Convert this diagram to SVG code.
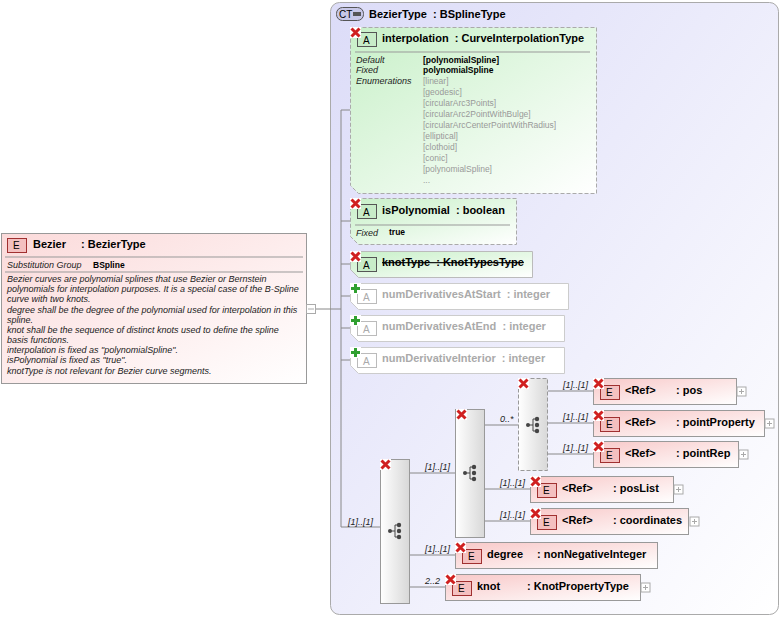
<svg xmlns="http://www.w3.org/2000/svg" width="782" height="618" viewBox="0 0 782 618">
<defs>
<linearGradient id="gCT" x1="0" y1="0" x2="1" y2="1"><stop offset="0" stop-color="#dcdcf8"/><stop offset="1" stop-color="#ffffff"/></linearGradient>
<linearGradient id="gA" x1="0" y1="0" x2="1" y2="1"><stop offset="0" stop-color="#c8f0c8"/><stop offset="1" stop-color="#ffffff"/></linearGradient>
<linearGradient id="gE" x1="0" y1="0" x2="1" y2="1"><stop offset="0" stop-color="#f8c8c8"/><stop offset="1" stop-color="#ffffff"/></linearGradient>
<linearGradient id="gE2" x1="0" y1="0" x2="1" y2="1"><stop offset="0" stop-color="#fbdada"/><stop offset="1" stop-color="#ffffff"/></linearGradient>
<linearGradient id="gS" x1="0" y1="0" x2="1" y2="0"><stop offset="0" stop-color="#ffffff"/><stop offset="1" stop-color="#d8d8d8"/></linearGradient>
<g id="xic"><rect x="0" y="0" width="11" height="11" fill="#fff"/><path d="M1.5 1.5L9.5 9.5M9.5 1.5L1.5 9.5" stroke="#d02020" stroke-width="3"/></g>
<g id="pic"><rect x="0" y="0" width="11" height="11" fill="#fff"/><path d="M5.5 1V10M1 5.5H10" stroke="#30a030" stroke-width="3"/></g>
<g id="seqi"><circle cx="0" cy="0" r="2" fill="#444"/><path d="M0 0H5M5 -6V6" stroke="#444"/><circle cx="9" cy="-6" r="2.2" fill="#444"/><circle cx="9" cy="0" r="2.2" fill="#444"/><circle cx="9" cy="6" r="2.2" fill="#444"/><path d="M5 -6H9M5 6H9" stroke="#444"/></g>
<g id="plus"><rect x="0" y="0" width="9" height="9" fill="#fff" stroke="#aaa"/><path d="M2 4.5H7M4.5 2V7" stroke="#aaa"/></g>
</defs>
<style>
text{font-family:"Liberation Sans",Arial,sans-serif;font-size:11px;fill:#000;white-space:pre}
.b{font-weight:bold}
.i{font-style:italic;font-size:9px;fill:#222}
.s{font-size:8.5px;font-weight:bold}
.en{font-size:8.5px;fill:#999}
.g{fill:#aaa;font-weight:bold}
.ln{stroke:#888;fill:none}
.eb{fill:url(#gE);stroke:#999}
.badge{fill:#f4c0c0;stroke:#a03030}
.badgeT{font-size:10px;fill:#000}
</style>
<g id="BezierType">
<rect x="330.5" y="2.5" width="448" height="612" rx="9" fill="url(#gCT)" stroke="#aaa"/>
<rect x="336.5" y="7.5" width="27" height="13" rx="6" fill="#c8c8e8" stroke="#555"/>
<text x="339" y="18" style="font-size:10px">CT</text><rect x="353" y="12" width="8" height="4" fill="#555"/>
<text x="369" y="18" class="b">BezierType  : BSplineType</text>
</g>
<g id="connectors">
<path class="ln" d="M316 309H341M341 110V527M341 110H350M341 221H350M341 264H350M341 296H350M341 328H350M341 360H350M341 527H380M410 473H455M485 425H518M548 391H593M548 423H593M548 454H593M485 489H530M485 521H530M410 555H455M410 587H445"/>
<text x="348" y="525" class="i">[1]..[1]</text>
<text x="425" y="470" class="i">[1]..[1]</text>
<text x="500" y="422" class="i">0..*</text>
<text x="563" y="388" class="i">[1]..[1]</text>
<text x="563" y="420" class="i">[1]..[1]</text>
<text x="563" y="451" class="i">[1]..[1]</text>
<text x="500" y="486" class="i">[1]..[1]</text>
<text x="500" y="518" class="i">[1]..[1]</text>
<text x="425" y="552" class="i">[1]..[1]</text>
<text x="425" y="584" class="i">2..2</text>
</g>
<g id="Bezier">
<rect x="1.5" y="233.5" width="305" height="150" fill="url(#gE2)" stroke="#999"/>
<rect x="7.5" y="238.5" width="19" height="14" class="badge"/><text x="13" y="249" class="badgeT">E</text>
<text x="33" y="248" class="b">Bezier</text><text x="81" y="248" class="b">: BezierType</text>
<path d="M5 257H303M5 272H303" stroke="#999"/>
<text x="7" y="268" class="i">Substitution Group</text><text x="93" y="268" class="s">BSpline</text>
<text class="i"><tspan x="7" y="282">Bezier curves are polynomial splines that use Bezier or Bernstein</tspan><tspan x="7" y="292">polynomials for interpolation purposes. It is a special case of the B-Spline</tspan><tspan x="7" y="302">curve with two knots.</tspan><tspan x="7" y="313">degree shall be the degree of the polynomial used for interpolation in this</tspan><tspan x="7" y="323">spline.</tspan><tspan x="7" y="333">knot shall be the sequence of distinct knots used to define the spline</tspan><tspan x="7" y="343">basis functions.</tspan><tspan x="7" y="353">interpolation is fixed as "polynomialSpline".</tspan><tspan x="7" y="363">isPolynomial is fixed as "true".</tspan><tspan x="7" y="374">knotType is not relevant for Bezier curve segments.</tspan></text>
<rect x="306.5" y="304.5" width="9" height="9" fill="#fff" stroke="#aaa"/><path d="M308 309H314" stroke="#aaa"/>
</g>
<g id="interpolation">
<path d="M350.5 27.5H596.5V193.5H358.5L350.5 185.5Z" fill="url(#gA)" stroke="#aaa" stroke-dasharray="4,2"/>
<rect x="357.5" y="32.5" width="19" height="14" fill="#c8ecc8" stroke="#555"/><text x="363" y="44" class="badgeT">A</text>
<use href="#xic" x="350" y="27"/>
<text x="382" y="42" class="b">interpolation  : CurveInterpolationType</text>
<path d="M355 52H590" stroke="#999"/>
<text class="i"><tspan x="356" y="63">Default</tspan><tspan x="356" y="73">Fixed</tspan><tspan x="356" y="84">Enumerations</tspan></text>
<text x="423" y="63" class="s">[polynomialSpline]</text><text x="423" y="73" class="s">polynomialSpline</text>
<text class="en"><tspan x="423" y="84">[linear]</tspan><tspan x="423" y="95">[geodesic]</tspan><tspan x="423" y="106">[circularArc3Points]</tspan><tspan x="423" y="117">[circularArc2PointWithBulge]</tspan><tspan x="423" y="128">[circularArcCenterPointWithRadius]</tspan><tspan x="423" y="139">[elliptical]</tspan><tspan x="423" y="150">[clothoid]</tspan><tspan x="423" y="161">[conic]</tspan><tspan x="423" y="172">[polynomialSpline]</tspan><tspan x="423" y="183">...</tspan></text>
</g>
<g id="isPolynomial">
<path d="M350.5 198.5H516.5V244.5H358.5L350.5 236.5Z" fill="url(#gA)" stroke="#aaa" stroke-dasharray="4,2"/>
<rect x="357.5" y="204.5" width="19" height="14" fill="#c8ecc8" stroke="#555"/><text x="363" y="216" class="badgeT">A</text>
<use href="#xic" x="350" y="198"/>
<text x="382" y="214" class="b">isPolynomial  : boolean</text>
<path d="M355 225H510" stroke="#999"/>
<text x="356" y="236" class="i">Fixed</text><text x="389" y="235" class="s">true</text>
</g>
<g id="knotType">
<path d="M350.5 251.5H532.5V277.5H358.5L350.5 269.5Z" fill="url(#gA)" stroke="#bbb"/>
<rect x="357.5" y="257.5" width="19" height="14" fill="#c8ecc8" stroke="#555"/><text x="363" y="269" class="badgeT">A</text>
<use href="#xic" x="350" y="251"/>
<text x="382" y="266" class="b" text-decoration="line-through">knotType  : KnotTypesType</text>
</g>
<g id="numDerivativesAtStart">
<path d="M350.5 283.5H568.5V309.5H358.5L350.5 301.5Z" fill="#fff" stroke="#ccc"/>
<rect x="357.5" y="289.5" width="19" height="14" fill="#fff" stroke="#bbb"/><text x="363" y="301" class="badgeT" style="fill:#aaa">A</text>
<use href="#pic" x="350" y="283"/>
<text x="382" y="298" class="g">numDerivativesAtStart  : integer</text>
</g>
<g id="numDerivativesAtEnd">
<path d="M350.5 315.5H564.5V341.5H358.5L350.5 333.5Z" fill="#fff" stroke="#ccc"/>
<rect x="357.5" y="321.5" width="19" height="14" fill="#fff" stroke="#bbb"/><text x="363" y="333" class="badgeT" style="fill:#aaa">A</text>
<use href="#pic" x="350" y="315"/>
<text x="382" y="330" class="g">numDerivativesAtEnd  : integer</text>
</g>
<g id="numDerivativeInterior">
<path d="M350.5 347.5H564.5V373.5H358.5L350.5 365.5Z" fill="#fff" stroke="#ccc"/>
<rect x="357.5" y="353.5" width="19" height="14" fill="#fff" stroke="#bbb"/><text x="363" y="365" class="badgeT" style="fill:#aaa">A</text>
<use href="#pic" x="350" y="347"/>
<text x="382" y="362" class="g">numDerivativeInterior  : integer</text>
</g>
<g id="seq1"><rect x="380.5" y="459.5" width="29" height="144" fill="url(#gS)" stroke="#999"/><use href="#xic" x="380" y="459"/><use href="#seqi" x="390" y="531"/></g>
<g id="seq2"><rect x="455.5" y="409.5" width="29" height="128" fill="url(#gS)" stroke="#999"/><use href="#xic" x="456" y="409"/><use href="#seqi" x="465" y="473"/></g>
<g id="choice"><rect x="518.5" y="378.5" width="29" height="92" fill="url(#gS)" stroke="#999" stroke-dasharray="4,2"/><use href="#xic" x="518" y="378"/><use href="#seqi" x="528" y="425"/></g>
<g id="pos"><rect x="593.5" y="378.5" width="143" height="26" class="eb"/><rect x="600.5" y="385.5" width="19" height="14" class="badge"/><text x="606" y="396" class="badgeT">E</text><use href="#xic" x="593" y="378"/><text x="625" y="394" class="b">&lt;Ref&gt;</text><text x="676" y="394" class="b">: pos</text><use href="#plus" x="737" y="387"/></g>
<g id="pointProperty"><rect x="593.5" y="410.5" width="171" height="26" class="eb"/><rect x="600.5" y="417.5" width="19" height="14" class="badge"/><text x="606" y="428" class="badgeT">E</text><use href="#xic" x="593" y="410"/><text x="625" y="426" class="b">&lt;Ref&gt;</text><text x="676" y="426" class="b">: pointProperty</text><use href="#plus" x="765" y="419"/></g>
<g id="pointRep"><rect x="593.5" y="441.5" width="145" height="26" class="eb"/><rect x="600.5" y="448.5" width="19" height="14" class="badge"/><text x="606" y="459" class="badgeT">E</text><use href="#xic" x="593" y="441"/><text x="625" y="457" class="b">&lt;Ref&gt;</text><text x="676" y="457" class="b">: pointRep</text><use href="#plus" x="739" y="450"/></g>
<g id="posList"><rect x="530.5" y="476.5" width="143" height="26" class="eb"/><rect x="537.5" y="483.5" width="19" height="14" class="badge"/><text x="543" y="494" class="badgeT">E</text><use href="#xic" x="530" y="476"/><text x="562" y="492" class="b">&lt;Ref&gt;</text><text x="613" y="492" class="b">: posList</text><use href="#plus" x="674" y="485"/></g>
<g id="coordinates"><rect x="530.5" y="508.5" width="158" height="26" class="eb"/><rect x="537.5" y="515.5" width="19" height="14" class="badge"/><text x="543" y="526" class="badgeT">E</text><use href="#xic" x="530" y="508"/><text x="562" y="524" class="b">&lt;Ref&gt;</text><text x="613" y="524" class="b">: coordinates</text><use href="#plus" x="690" y="517"/></g>
<g id="degree"><rect x="455.5" y="542.5" width="202" height="26" class="eb"/><rect x="462.5" y="549.5" width="19" height="14" class="badge"/><text x="468" y="560" class="badgeT">E</text><use href="#xic" x="455" y="542"/><text x="487" y="558" class="b">degree</text><text x="537" y="558" class="b">: nonNegativeInteger</text></g>
<g id="knot"><rect x="445.5" y="574.5" width="195" height="26" class="eb"/><rect x="452.5" y="581.5" width="19" height="14" class="badge"/><text x="458" y="592" class="badgeT">E</text><use href="#xic" x="445" y="574"/><text x="477" y="590" class="b">knot</text><text x="527" y="590" class="b">: KnotPropertyType</text><use href="#plus" x="641" y="583"/></g>
</svg>
